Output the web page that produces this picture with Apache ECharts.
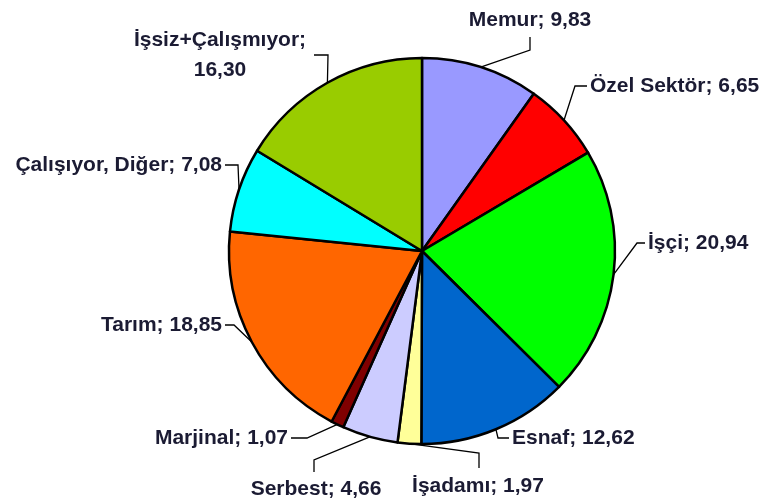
<!DOCTYPE html>
<html>
<head>
<meta charset="utf-8">
<script src="https://cdn.jsdelivr.net/npm/echarts@6/dist/echarts.min.js"></script>
<style>html,body{margin:0;padding:0;background:#fff}#c{width:766px;height:502px}</style>
</head>
<body>
<div id="c"></div>
<script>
const categories = ['Memur','Özel Sektör','İşçi','Esnaf','İşadamı','Serbest','Marjinal','Tarım','Çalışıyor, Diğer','İşsiz+Çalışmıyor'];
const values = [9.83, 6.65, 20.94, 12.62, 1.97, 4.66, 1.07, 18.85, 7.08, 16.30];
const colors = ['#9999FF','#FF0000','#00FF00','#0066CC','#FFFF99','#CCCCFF','#800000','#FF6600','#00FFFF','#99CC00'];

// label anchor positions and leader-line elbows (layout only)
const labelLayoutSpec = [
  {x:530, y:20, align:'center', pts:[[530,50],[530,37]]},
  {x:590, y:86, align:'left', pts:[[575,86],[587,86]]},
  {x:648, y:243, align:'left', pts:[[637,243],[645,243]]},
  {x:512, y:438, align:'left', pts:[[498,438],[509,438]]},
  {x:478, y:486, align:'center', pts:[[479,453],[479,468]]},
  {x:316, y:489, align:'center', pts:[[314,460],[314,472]]},
  {x:288, y:438, align:'right', pts:[[307,438],[291,438]]},
  {x:222, y:325, align:'right', pts:[[234,325],[225,325]]},
  {x:222, y:165, align:'right', pts:[[238,165],[225,165]]},
  {x:220, y:55, align:'center', pts:[[328,55],[314,55]]}
];

const fmt = v => v.toFixed(2).replace('.', ',');
const chart = echarts.init(document.getElementById('c'), null, {renderer:'canvas'});
chart.setOption({
  animation: false,
  backgroundColor: '#ffffff',
  series: [{
    type: 'pie',
    center: [422, 251],
    radius: 193,
    startAngle: 90,
    clockwise: true,
    avoidLabelOverlap: false,
    data: categories.map((n, i) => ({name: n, value: values[i], itemStyle: {color: colors[i]}})),
    itemStyle: {borderColor: '#000', borderWidth: 2.5},
    label: {
      show: true,
      position: 'outside',
      formatter: p => p.dataIndex === 9 ? p.name + ';\n' + fmt(p.value) : p.name + '; ' + fmt(p.value),
      fontFamily: 'Liberation Sans, Arial, sans-serif',
      fontWeight: 'bold',
      fontSize: 21,
      lineHeight: 30,
      color: '#1b1b33'
    },
    labelLine: {show: true, lineStyle: {color: '#000', width: 1.3}},
    labelLayout: function (params) {
      const s = labelLayoutSpec[params.dataIndex];
      const p0 = params.labelLinePoints ? params.labelLinePoints[0] : s.pts[0];
      return {
        x: s.x, y: s.y, align: s.align, verticalAlign: 'middle',
        labelLinePoints: [p0, s.pts[0], s.pts[1]]
      };
    },
    emphasis: {disabled: true}
  }]
});
</script>
</body>
</html>
